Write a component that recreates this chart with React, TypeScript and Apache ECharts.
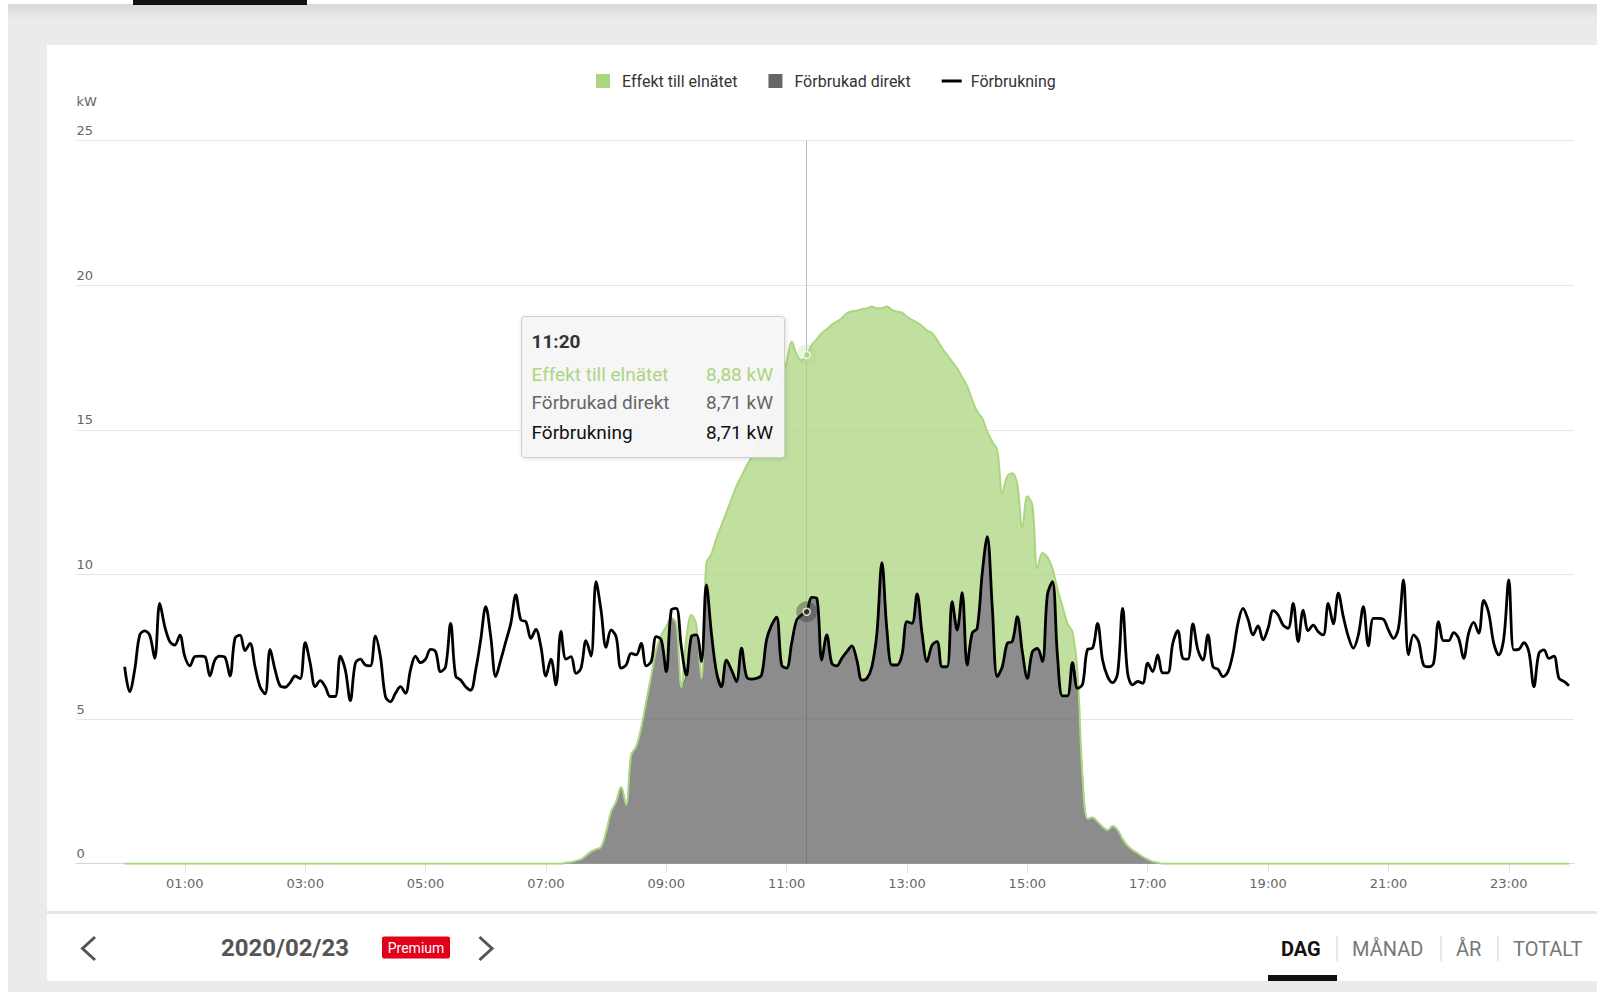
import React, { useEffect, useRef } from 'react';
import * as echarts from 'echarts';

// ---------- data (5-minute readings, 00:00 .. 24:00) ----------
const STEP_MIN = 5;

// Förbrukning (total consumption), kW
const consumption: number[] = [
  6.81, 5.95, 6.7, 7.9, 8.05, 7.9, 7.1, 9.0, 8.2, 7.68, 7.56, 7.9,
  7.16, 6.84, 7.16, 7.18, 7.16, 6.49, 7.05, 7.18, 7.14, 6.49, 7.79, 7.9,
  7.37, 7.62, 6.81, 6.12, 5.87, 7.41, 6.7, 6.15, 6.1, 6.26, 6.49, 6.4,
  7.64, 6.93, 6.12, 6.33, 6.12, 5.78, 5.78, 7.18, 6.7, 5.64, 6.93, 7.07,
  6.87, 6.84, 7.87, 7.16, 5.78, 5.6, 5.89, 6.12, 5.89, 6.7, 7.18, 6.95,
  7.07, 7.41, 7.33, 6.64, 6.81, 8.31, 6.49, 6.35, 6.12, 6.0, 6.7, 7.74,
  8.89, 7.85, 6.47, 7.05, 7.68, 8.31, 9.29, 8.43, 8.37, 7.79, 8.1, 7.5,
  6.49, 7.07, 6.18, 8.03, 7.07, 7.16, 6.58, 6.76, 7.71, 7.18, 9.75, 8.75,
  7.48, 8.08, 7.85, 6.76, 6.87, 7.27, 7.22, 7.62, 6.84, 6.99, 7.85, 7.74,
  6.64, 8.77, 8.83, 7.5, 6.52, 7.85, 7.91, 6.99, 9.64, 7.97, 6.64, 6.12,
  7.04, 6.7, 6.3, 7.45, 6.47, 6.38, 6.41, 6.52, 7.74, 8.25, 8.52, 6.87,
  6.76, 7.62, 8.43, 8.6, 8.71, 9.21, 9.18, 7.04, 7.91, 6.93, 6.84, 7.1,
  7.33, 7.53, 7.04, 6.35, 6.41, 6.81, 7.97, 10.41, 8.08, 6.87, 6.87, 7.22,
  8.37, 8.31, 9.33, 7.97, 6.99, 7.56, 7.68, 6.81, 6.81, 9.06, 8.08, 9.37,
  6.87, 7.97, 8.14, 10.04, 11.31, 8.89, 6.47, 6.81, 7.62, 7.68, 8.54, 7.33,
  6.41, 7.33, 7.44, 6.99, 9.3, 9.75, 7.2, 5.8, 5.8, 6.95, 6.06, 6.2,
  7.41, 7.45, 8.31, 7.04, 6.47, 6.26, 6.58, 8.83, 6.58, 6.18, 6.3, 6.24,
  6.93, 6.64, 7.22, 6.6, 6.6, 7.62, 8.06, 7.1, 7.07, 8.29, 7.39, 7.04,
  7.91, 6.81, 6.72, 6.47, 6.64, 7.27, 8.31, 8.83, 8.45, 7.91, 8.22, 7.74,
  8.14, 8.75, 8.6, 8.25, 8.14, 9.0, 7.68, 8.77, 8.06, 8.25, 8.02, 7.91,
  9.0, 8.29, 9.35, 8.54, 7.85, 7.45, 7.91, 8.89, 7.53, 8.48, 8.48, 8.45,
  8.08, 7.79, 8.14, 9.81, 7.22, 7.91, 7.68, 6.87, 6.81, 6.93, 8.37, 7.71,
  7.71, 7.99, 7.79, 7.1, 7.97, 8.34, 7.97, 9.1, 8.66, 7.62, 7.22, 7.79,
  9.81, 7.39, 7.41, 7.64, 7.33, 6.12, 7.27, 7.39, 7.1, 7.18, 6.41, 6.3,
  6.15,
];

// total solar production (top of the stacked areas), kW
const solarProduction: number[] = [
  0, 0, 0, 0, 0, 0, 0, 0, 0, 0, 0, 0,
  0, 0, 0, 0, 0, 0, 0, 0, 0, 0, 0, 0,
  0, 0, 0, 0, 0, 0, 0, 0, 0, 0, 0, 0,
  0, 0, 0, 0, 0, 0, 0, 0, 0, 0, 0, 0,
  0, 0, 0, 0, 0, 0, 0, 0, 0, 0, 0, 0,
  0, 0, 0, 0, 0, 0, 0, 0, 0, 0, 0, 0,
  0, 0, 0, 0, 0, 0, 0, 0, 0, 0, 0, 0,
  0, 0, 0, 0, 0.03, 0.05, 0.1, 0.15, 0.28, 0.42, 0.5, 0.58,
  1.1, 1.8, 2.15, 2.65, 2.03, 3.76, 4.05, 4.7, 5.6, 6.5, 7.4, 7.9,
  8.2, 8.5, 8.3, 6.1, 7.8, 8.6, 8.25, 6.4, 10.4, 10.7, 11.25, 11.7,
  12.15, 12.6, 13.05, 13.4, 13.75, 14.05, 14.45, 14.85, 15.25, 15.7, 16.2, 16.7,
  17.35, 18.05, 17.6, 17.4, 17.59, 17.94, 18.13, 18.34, 18.48, 18.63, 18.74, 18.86,
  19.03, 19.09, 19.12, 19.17, 19.2, 19.26, 19.2, 19.2, 19.26, 19.15, 19.09, 19.05,
  18.91, 18.8, 18.71, 18.59, 18.43, 18.34, 18.11, 17.82, 17.59, 17.36, 17.13, 16.82,
  16.5, 16.03, 15.63, 15.4, 14.94, 14.59, 14.3, 12.8, 13.4, 13.5, 13.1, 11.6,
  12.7, 12.4, 10.2, 10.75, 10.6, 10.2, 9.5, 8.9, 8.3, 8.0, 6.6, 3.0,
  1.55, 1.6, 1.45, 1.28, 1.16, 1.3, 1.16, 0.85, 0.62, 0.47, 0.36, 0.24,
  0.15, 0.07, 0.03, 0, 0, 0, 0, 0, 0, 0, 0, 0,
  0, 0, 0, 0, 0, 0, 0, 0, 0, 0, 0, 0,
  0, 0, 0, 0, 0, 0, 0, 0, 0, 0, 0, 0,
  0, 0, 0, 0, 0, 0, 0, 0, 0, 0, 0, 0,
  0, 0, 0, 0, 0, 0, 0, 0, 0, 0, 0, 0,
  0, 0, 0, 0, 0, 0, 0, 0, 0, 0, 0, 0,
  0, 0, 0, 0, 0, 0, 0, 0, 0, 0, 0, 0,
  0,
];

const xLabelHours = [1, 3, 5, 7, 9, 11, 13, 15, 17, 19, 21, 23];
const yTickValues = [0, 5, 10, 15, 20, 25];
const hoverIndex = 136; // 11:20

const SERIES_GRID = 'Effekt till elnätet';
const SERIES_DIRECT = 'Förbrukad direkt';
const SERIES_CONS = 'Förbrukning';
const dateLabel = '2020/02/23';
const periodTabs = ['DAG', 'MÅNAD', 'ÅR', 'TOTALT'];

// ---------- styles ----------
const GREEN = '#acd580';
const GRAY = '#666666';
const BLACK = '#000000';

const pad2 = (n: number) => String(n).padStart(2, '0');
const fmtTime = (min: number) => {
  const m = Math.round(min);
  return `${pad2(Math.floor(m / 60))}:${pad2(m % 60)}`;
};
const fmtKw = (v: number) => `${v.toFixed(2).replace('.', ',')} kW`;

export default function App() {
  const ref = useRef<HTMLDivElement>(null);

  useEffect(() => {
    if (!ref.current) return;
    const chart = echarts.init(ref.current, undefined, { renderer: 'svg' });

    const times = consumption.map((_, i) => i * STEP_MIN);
    const direct = solarProduction.map((p, i) => Math.min(p, consumption[i]));
    const toGrid = solarProduction.map((p, i) => +(p - direct[i]).toFixed(4));

    const hx = times[hoverIndex];
    const hTop = direct[hoverIndex] + toGrid[hoverIndex];
    const hDirect = direct[hoverIndex];
    const hCons = consumption[hoverIndex];

    const font = 'Roboto, "Noto Sans", sans-serif';
    const axisFont = '"DejaVu Sans", Verdana, sans-serif';

    const tipX = 521.5;
    const tipY = 316.5;
    const tipW = 263;
    const tipH = 141;
    const rowL = 531.5;
    const rowR = 773;

    const tabX = [1281, 1352, 1456, 1513];
    const labelMinutes = xLabelHours.map((h) => h * 60);

    // stacked series: value first so the stack is applied to the kW dimension
    const stackedEncode = { x: 1, y: 0 };

    const option: any = {
      animation: false,
      grid: { left: 76.5, right: 23, top: 140.6, bottom: 128.3, containLabel: false, outerBoundsMode: 'none' },
      legend: {
        left: 591,
        top: 68,
        itemWidth: 20,
        itemHeight: 14,
        itemGap: 31,
        selectedMode: false,
        itemStyle: { borderWidth: 0 },
        textStyle: { color: '#333333', fontSize: 16, fontFamily: font, padding: [0, 0, 0, 4] },
        data: [
          { name: SERIES_GRID, icon: 'path://M0 0H14V14H0Z' },
          { name: SERIES_DIRECT, icon: 'path://M0 0H14V14H0Z' },
          { name: SERIES_CONS, icon: 'path://M0 0H20V3H0Z' },
        ],
      },
      xAxis: {
        type: 'value',
        min: -48,
        max: 1445,
        splitLine: { show: false },
        axisLine: { show: true, onZero: false, lineStyle: { color: '#ccd6eb', width: 1 } },
        axisTick: {
          show: true,
          length: 9,
          lineStyle: { color: '#dfe4ec' },
          customValues: labelMinutes,
        },
        axisLabel: {
          color: '#666666',
          fontSize: 13,
          fontFamily: axisFont,
          margin: 13,
          customValues: labelMinutes,
          formatter: (v: number) => fmtTime(v),
        },
      },
      yAxis: {
        type: 'value',
        min: 0,
        max: 25,
        interval: 5,
        name: 'kW',
        nameLocation: 'end',
        nameGap: 39.6,
        nameTextStyle: { color: '#666666', fontSize: 13, fontFamily: axisFont, align: 'left', verticalAlign: 'middle' },
        axisLine: { show: false, onZero: false },
        axisTick: { show: false },
        splitLine: { show: true, lineStyle: { color: '#e6e6e6', width: 1 } },
        axisLabel: {
          inside: true,
          margin: 0,
          align: 'left',
          verticalAlign: 'bottom',
          lineHeight: 16,
          padding: [0, 0, 2, 0],
          color: '#666666',
          fontSize: 13,
          fontFamily: axisFont,
          customValues: yTickValues,
        },
      },
      series: [
        {
          name: 'crosshair',
          type: 'line',
          z: 1,
          silent: true,
          data: [],
          markLine: {
            z: 1,
            silent: true,
            symbol: ['none', 'none'],
            label: { show: false },
            lineStyle: { color: '#bdbdbd', width: 1, type: 'solid' },
            data: [{ xAxis: hx }],
          },
        },
        {
          name: SERIES_DIRECT,
          type: 'line',
          stack: 'production',
          encode: stackedEncode,
          z: 2,
          smooth: 0.35,
          symbol: 'none',
          showSymbol: false,
          color: GRAY,
          lineStyle: { color: GRAY, width: 1 },
          areaStyle: { color: GRAY, opacity: 0.75 },
          emphasis: { disabled: true },
          data: times.map((t, i) => [direct[i], t]),
        },
        {
          name: SERIES_GRID,
          type: 'line',
          stack: 'production',
          encode: stackedEncode,
          z: 2,
          smooth: 0.35,
          symbol: 'none',
          showSymbol: false,
          color: GREEN,
          lineStyle: { color: GREEN, width: 2 },
          areaStyle: { color: GREEN, opacity: 0.75 },
          emphasis: { disabled: true },
          data: times.map((t, i) => [toGrid[i], t]),
        },
        {
          name: SERIES_CONS,
          type: 'line',
          z: 3,
          smooth: 0.35,
          symbol: 'none',
          showSymbol: false,
          color: BLACK,
          lineStyle: { color: BLACK, width: 2.8 },
          emphasis: { disabled: true },
          data: times.map((t, i) => [t, consumption[i]]),
        },
        {
          name: 'halo',
          type: 'scatter',
          z: 4,
          silent: true,
          symbolSize: 21,
          data: [
            { value: [hx, hTop], itemStyle: { color: 'rgba(172,213,128,0.3)' } },
            { value: [hx, hDirect], itemStyle: { color: 'rgba(102,102,102,0.3)' } },
            { value: [hx, hCons], itemStyle: { color: 'rgba(0,0,0,0.25)' } },
          ],
        },
        {
          name: 'marker',
          type: 'scatter',
          z: 5,
          silent: true,
          symbolSize: 7,
          data: [
            { value: [hx, hTop], itemStyle: { color: GREEN, borderColor: '#ffffff', borderWidth: 1.5 } },
            { value: [hx, hCons], itemStyle: { color: '#333333', borderColor: '#ffffff', borderWidth: 1.5 } },
          ],
        },
      ],
      graphic: [
        // tooltip
        {
          type: 'rect',
          z: 100,
          shape: { x: tipX, y: tipY, width: tipW, height: tipH, r: 3 },
          style: {
            fill: 'rgba(247,247,247,0.96)',
            stroke: '#cfcfcf',
            lineWidth: 1,
            shadowBlur: 4,
            shadowOffsetX: 1,
            shadowOffsetY: 1,
            shadowColor: 'rgba(0,0,0,0.12)',
          },
        },
        {
          type: 'text', z: 101, x: rowL, y: 341,
          style: { text: fmtTime(hx), fill: '#333333', fontSize: 19, fontWeight: 'bold', fontFamily: font, align: 'left', verticalAlign: 'middle' },
        },
        {
          type: 'text', z: 101, x: rowL, y: 374,
          style: { text: SERIES_GRID, fill: GREEN, fontSize: 19, fontFamily: font, align: 'left', verticalAlign: 'middle' },
        },
        {
          type: 'text', z: 101, x: rowR, y: 374,
          style: { text: fmtKw(toGrid[hoverIndex]), fill: GREEN, fontSize: 19, fontFamily: font, align: 'right', verticalAlign: 'middle' },
        },
        {
          type: 'text', z: 101, x: rowL, y: 402.5,
          style: { text: SERIES_DIRECT, fill: GRAY, fontSize: 19, fontFamily: font, align: 'left', verticalAlign: 'middle' },
        },
        {
          type: 'text', z: 101, x: rowR, y: 402.5,
          style: { text: fmtKw(hDirect), fill: GRAY, fontSize: 19, fontFamily: font, align: 'right', verticalAlign: 'middle' },
        },
        {
          type: 'text', z: 101, x: rowL, y: 432,
          style: { text: SERIES_CONS, fill: '#111111', fontSize: 19, fontFamily: font, align: 'left', verticalAlign: 'middle' },
        },
        {
          type: 'text', z: 101, x: rowR, y: 432,
          style: { text: fmtKw(hCons), fill: '#111111', fontSize: 19, fontFamily: font, align: 'right', verticalAlign: 'middle' },
        },
        // bottom navigation bar
        {
          type: 'polyline', z: 50,
          shape: { points: [[95, 937], [82.5, 948.5], [95, 960]] },
          style: { stroke: '#555555', lineWidth: 3, fill: 'none' },
        },
        {
          type: 'text', z: 50, x: 221, y: 948,
          style: { text: dateLabel, fill: '#555555', fontSize: 24, fontWeight: 'bold', fontFamily: font, align: 'left', verticalAlign: 'middle' },
        },
        {
          type: 'rect', z: 50,
          shape: { x: 382, y: 936.5, width: 68, height: 22, r: 2 },
          style: { fill: '#e2001a' },
        },
        {
          type: 'text', z: 51, x: 416, y: 947.5,
          style: { text: 'Premium', fill: '#ffffff', fontSize: 14, fontFamily: font, align: 'center', verticalAlign: 'middle' },
        },
        {
          type: 'polyline', z: 50,
          shape: { points: [[479.5, 937], [492, 948.5], [479.5, 960]] },
          style: { stroke: '#555555', lineWidth: 3, fill: 'none' },
        },
        ...periodTabs.map((t, k) => ({
          type: 'text', z: 50, x: tabX[k], y: 949,
          style: {
            text: t,
            fill: k === 0 ? '#111111' : '#777777',
            fontSize: 20,
            fontWeight: k === 0 ? 'bold' : 'normal',
            fontFamily: font,
            align: 'left',
            verticalAlign: 'middle',
          },
        })),
        ...[1337, 1441, 1498].map((x) => ({
          type: 'line', z: 50,
          shape: { x1: x, y1: 936, x2: x, y2: 961 },
          style: { stroke: '#d0d0d0', lineWidth: 1 },
        })),
        {
          type: 'rect', z: 50,
          shape: { x: 1268, y: 975, width: 69, height: 6 },
          style: { fill: '#111111' },
        },
      ],
    };

    chart.setOption(option);
    return () => chart.dispose();
  }, []);

  return (
    <div
      style={{
        position: 'fixed',
        left: 0,
        top: 0,
        width: 1597,
        height: 992,
        background: '#eaebea',
        overflow: 'hidden',
      }}
    >
      <div style={{ position: 'absolute', left: 8, top: 4, width: 1589, height: 16, background: 'linear-gradient(#d8d9d8, #eaebea)' }} />
      <div style={{ position: 'absolute', left: 0, top: 0, width: 8, height: 992, background: '#ffffff' }} />
      <div style={{ position: 'absolute', left: 0, top: 0, width: 1597, height: 4, background: '#ffffff' }} />
      <div style={{ position: 'absolute', left: 133, top: 0, width: 174, height: 4.5, background: '#111111' }} />
      <div style={{ position: 'absolute', left: 47, top: 45, width: 1550, height: 866, background: '#ffffff' }} />
      <div style={{ position: 'absolute', left: 47, top: 911, width: 1550, height: 3, background: '#e3e4e3' }} />
      <div style={{ position: 'absolute', left: 47, top: 914, width: 1550, height: 67, background: '#ffffff' }} />
      <div ref={ref} style={{ position: 'absolute', left: 0, top: 0, width: 1597, height: 992 }} />
    </div>
  );
}
